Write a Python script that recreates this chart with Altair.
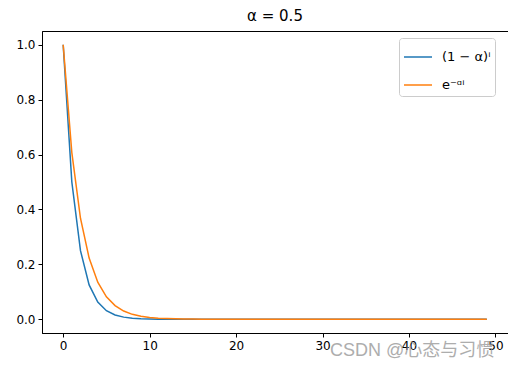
import altair as alt
import pandas as pd

# ---- data ----
i_vals = list(range(50))
pow_vals = [1.0, 0.5, 0.25, 0.125, 0.0625, 0.03125, 0.0156, 0.0078, 0.0039, 0.002,
            0.001, 0.0005, 0.0002, 0.0001, 0.0001, 0.0, 0.0, 0.0, 0.0, 0.0,
            0.0, 0.0, 0.0, 0.0, 0.0, 0.0, 0.0, 0.0, 0.0, 0.0,
            0.0, 0.0, 0.0, 0.0, 0.0, 0.0, 0.0, 0.0, 0.0, 0.0,
            0.0, 0.0, 0.0, 0.0, 0.0, 0.0, 0.0, 0.0, 0.0, 0.0]
exp_vals = [1.0, 0.607, 0.368, 0.223, 0.135, 0.082, 0.050, 0.030, 0.018, 0.011,
            0.0067, 0.0041, 0.0025, 0.0015, 0.0009, 0.0006, 0.0003, 0.0002, 0.0001, 0.0001,
            0.0, 0.0, 0.0, 0.0, 0.0, 0.0, 0.0, 0.0, 0.0, 0.0,
            0.0, 0.0, 0.0, 0.0, 0.0, 0.0, 0.0, 0.0, 0.0, 0.0,
            0.0, 0.0, 0.0, 0.0, 0.0, 0.0, 0.0, 0.0, 0.0, 0.0]
series_names = ["(1 − α)ⁱ", "e⁻ᵅⁱ"]
series_colors = ["#1f77b4", "#ff7f0e"]
title_text = "α = 0.5"
x_ticks = [0, 10, 20, 30, 40, 50]
y_ticks = [0.0, 0.2, 0.4, 0.6, 0.8, 1.0]
watermark = "CSDN @心态与习惯"

df = pd.DataFrame({
    "i": i_vals + i_vals,
    "y": pow_vals + exp_vals,
    "series": [series_names[0]] * len(i_vals) + [series_names[1]] * len(i_vals),
})

lines = alt.Chart(df).mark_line(strokeWidth=1.5).encode(
    x=alt.X("i:Q", scale=alt.Scale(domain=[-2.45, 51.45], nice=False, zero=False),
            axis=alt.Axis(values=x_ticks, format="d", title=None)),
    y=alt.Y("y:Q", scale=alt.Scale(domain=[-0.05, 1.05], nice=False, zero=False),
            axis=alt.Axis(values=y_ticks, format=".1f", title=None)),
    color=alt.Color("series:N",
                    scale=alt.Scale(domain=series_names, range=series_colors),
                    sort=series_names,
                    legend=alt.Legend(
                        title=None, orient="none", legendX=357, legendY=7,
                        symbolType="stroke", symbolSize=784, symbolStrokeWidth=1.5,
                        labelFont="DejaVu Sans", labelFontSize=13, labelColor="black",
                        labelOffset=9, padding=4, rowPadding=6,
                        fillColor="white", strokeColor="#cccccc", cornerRadius=3,
                    )),
    detail="series:N",
)

wm = alt.Chart(pd.DataFrame({"t": [watermark]})).mark_text(
    align="left", baseline="middle", font="Liberation Sans, Noto Sans CJK SC",
    fontSize=18, color="#999999", opacity=0.8,
).encode(text="t:N", x=alt.value(288), y=alt.value(320))

chart = alt.layer(lines, wm).properties(
    width=466, height=302,
    title=alt.TitleParams(title_text, font="DejaVu Sans", fontSize=15,
                          fontWeight="normal", color="black", offset=7),
    autosize=alt.AutoSizeParams(type="none"),
    padding={"left": 34, "top": 23, "right": 0, "bottom": 26},
).configure_view(stroke="black", strokeWidth=1).configure_axis(
    grid=False, domainColor="black", tickColor="black", tickSize=4,
    labelColor="black", labelFont="DejaVu Sans", labelFontSize=12, labelPadding=3,
    domain=True,
)

chart.save("out.html", embed_options={"renderer": "svg", "actions": False})
